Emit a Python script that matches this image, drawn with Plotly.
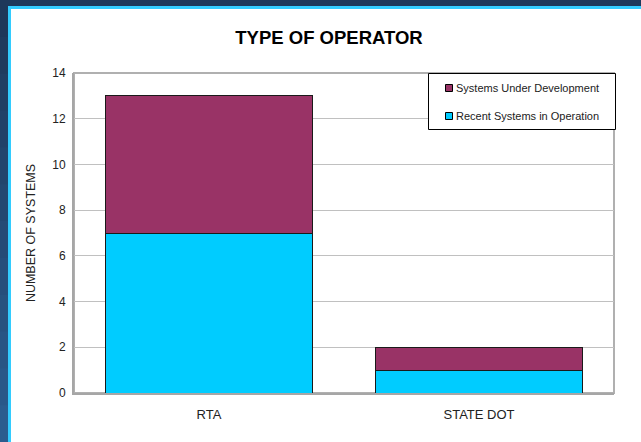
import plotly.graph_objects as go

categories = ["RTA", "STATE DOT"]
operation = [7, 1]
development = [6, 1]
y_ticks = [0, 2, 4, 6, 8, 10, 12, 14]
series_names = ["Systems Under Development", "Recent Systems in Operation"]
series_colors = ["#993366", "#00ccff"]

W, H = 641, 442
L, R, T, B = 74, 27, 73, 49
pw, ph = W - L - R, H - T - B

def px(x):
    return (x - L) / pw

def py(y):
    return (H - B - y) / ph

fig = go.Figure()
fig.add_trace(go.Bar(
    x=categories, y=operation, name=series_names[1],
    marker=dict(color=series_colors[1], line=dict(color="#1a1a1a", width=1)),
    width=0.77, showlegend=False,
))
fig.add_trace(go.Bar(
    x=categories, y=development, name=series_names[0],
    marker=dict(color=series_colors[0], line=dict(color="#1a1a1a", width=1)),
    width=0.77, showlegend=False,
))

shapes = []
# background gradient (dark blue, lighter toward bottom)
n = 12
c0 = (0x1e, 0x38, 0x5a)
c1 = (0x2b, 0x5c, 0x8e)
for i in range(n):
    t = i / (n - 1)
    c = tuple(int(c0[k] + (c1[k] - c0[k]) * t) for k in range(3))
    shapes.append(dict(type="rect", xref="paper", yref="paper", layer="below",
                       x0=px(-5), x1=px(660),
                       y0=py(H * (i + 1) / n + 1), y1=py(H * i / n),
                       fillcolor="rgb(%d,%d,%d)" % c, line=dict(width=0)))
# white panel with cyan border
shapes.append(dict(type="rect", xref="paper", yref="paper", layer="below",
                   x0=px(9.5), x1=px(660), y0=py(460), y1=py(7.5),
                   fillcolor="white", line=dict(color="#33ccff", width=3)))
# plot box
shapes.append(dict(type="rect", xref="paper", yref="paper", layer="below",
                   x0=0, x1=1, y0=0, y1=1, fillcolor="rgba(0,0,0,0)",
                   line=dict(color="#b0b0b0", width=2)))
# legend box
shapes.append(dict(type="rect", xref="paper", yref="paper", layer="above",
                   x0=px(428.5), x1=px(615.5), y0=py(129.5), y1=py(73.5),
                   fillcolor="white", line=dict(color="#000000", width=1)))
annotations = []
legend_y = [88, 116]
for name, col, ly in zip(series_names, series_colors, legend_y):
    shapes.append(dict(type="rect", xref="paper", yref="paper", layer="above",
                       x0=px(445.5), x1=px(452.5), y0=py(ly + 3.5), y1=py(ly - 3.5),
                       fillcolor=col, line=dict(color="#000000", width=1)))
    annotations.append(dict(text=name, xref="paper", yref="paper",
                            x=px(454), y=py(ly), xanchor="left", yanchor="middle",
                            showarrow=False,
                            font=dict(size=11, color="#222222")))

fig.update_layout(
    width=W, height=H,
    margin=dict(l=L, r=R, t=T, b=B, autoexpand=False),
    paper_bgcolor="#234470",
    plot_bgcolor="white",
    barmode="stack",
    shapes=shapes,
    annotations=annotations,
    showlegend=False,
    font=dict(family="Liberation Sans, Arial, sans-serif", color="#222222", size=12),
    title=dict(text="<b>TYPE OF OPERATOR</b>", x=329 / W, xref="container",
               y=1 - 38 / H, yref="container", yanchor="middle", xanchor="center",
               font=dict(size=18.5, color="#000000")),
)
fig.update_yaxes(range=[0, 14], tickvals=y_ticks, showgrid=True,
                 gridcolor="#c0c0c0", gridwidth=1, showline=True,
                 linecolor="#a6a6a6", linewidth=2, ticks="",
                 zeroline=False, automargin=False, ticklabelstandoff=4,
                 tickfont=dict(size=12),
                 title=dict(text="NUMBER OF SYSTEMS", standoff=14,
                            font=dict(size=12.5, color="#222222")))
fig.update_xaxes(showline=True, linecolor="#a6a6a6", linewidth=2, ticks="",
                 automargin=False, ticklabelstandoff=8,
                 tickfont=dict(size=13))

fig.write_html("out.html", config={"displayModeBar": False},
               post_script="document.body.style.margin='0';document.body.style.background='#1e385a';")
